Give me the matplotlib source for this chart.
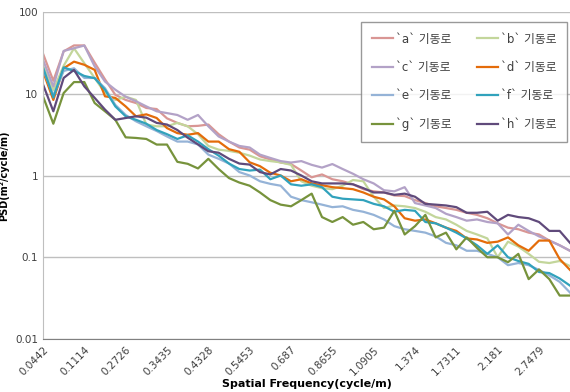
import matplotlib
matplotlib.use('Agg')
import matplotlib.pyplot as plt
import numpy as np

plt.rcParams['font.family'] = ['DejaVu Sans', 'Noto Sans CJK KR']

# category labels shown on the x axis (every 4th frequency)
freq_labels = ['0.0442', '0.1114', '0.2726', '0.3435', '0.4328', '0.5453', '0.687',
               '0.8655', '1.0905', '1.374', '1.7311', '2.181', '2.7479']

psd_a = [31, 14.4, 33, 39, 39, 24, 15, 9.7, 8.4, 7.7, 6.7, 6.5, 5.0, 4.4, 4.0, 4.05,
         4.2, 3.2, 2.6, 2.2, 2.07, 1.72, 1.57, 1.44, 1.38, 1.15, 0.95, 1.03, 0.9, 0.85,
         0.78, 0.68, 0.64, 0.62, 0.57, 0.56, 0.5, 0.46, 0.42, 0.4, 0.38, 0.35, 0.33,
         0.3, 0.26, 0.23, 0.22, 0.2, 0.19, 0.16, 0.14, 0.12]
psd_b = [22, 11, 22, 36, 23.6, 15.6, 10.2, 8.4, 9.2, 8.4, 4.2, 4.0, 4.0, 4.4, 4.0, 3.2,
         2.3, 2.07, 2.0, 1.9, 1.75, 1.57, 1.5, 1.45, 1.35, 0.85, 0.75, 0.7, 0.68, 0.75,
         0.88, 0.85, 0.55, 0.4, 0.43, 0.42, 0.4, 0.36, 0.31, 0.29, 0.25, 0.21, 0.19,
         0.17, 0.1, 0.155, 0.135, 0.11, 0.088, 0.085, 0.09, 0.078]
psd_c = [26, 12.3, 33.4, 36, 38.9, 21.6, 14.1, 11.2, 9.2, 8.1, 7.0, 6.1, 5.8, 5.5, 4.8, 5.5,
         4.0, 3.0, 2.6, 2.3, 2.2, 1.8, 1.64, 1.5, 1.44, 1.5, 1.35, 1.25, 1.38, 1.2,
         1.05, 0.9, 0.8, 0.66, 0.64, 0.72, 0.46, 0.43, 0.4, 0.34, 0.31, 0.28, 0.29,
         0.27, 0.26, 0.19, 0.25, 0.21, 0.18, 0.16, 0.14, 0.12]
psd_d = [18.8, 8.4, 20.5, 24.7, 22.6, 19.6, 9.3, 8.9, 7.0, 5.3, 5.6, 5.05, 3.8, 3.3, 3.15, 3.3,
         2.6, 2.6, 2.1, 1.95, 1.45, 1.3, 1.08, 1.0, 0.85, 0.9, 0.8, 0.76, 0.72, 0.7,
         0.68, 0.62, 0.55, 0.51, 0.42, 0.3, 0.28, 0.29, 0.26, 0.23, 0.21, 0.17, 0.165,
         0.15, 0.155, 0.175, 0.14, 0.12, 0.16, 0.16, 0.095, 0.07]
psd_e = [20, 9.5, 19, 20.5, 15.6, 15.6, 11.7, 7.3, 5.5, 4.6, 4.0, 3.5, 3.0, 2.6, 2.6, 2.4,
         1.8, 1.6, 1.4, 1.1, 1.0, 0.85, 0.79, 0.75, 0.55, 0.5, 0.47, 0.44, 0.41, 0.42,
         0.38, 0.36, 0.33, 0.29, 0.24, 0.22, 0.21, 0.2, 0.18, 0.15, 0.14, 0.12, 0.12,
         0.11, 0.1, 0.08, 0.085, 0.08, 0.07, 0.06, 0.05, 0.037]
psd_f = [21, 9, 21, 19, 16.5, 15.5, 11.2, 7.0, 5.3, 4.8, 4.3, 3.6, 3.2, 2.8, 3.1, 2.6,
         2.1, 1.75, 1.4, 1.2, 1.15, 1.18, 0.9, 1.0, 0.78, 0.75, 0.78, 0.72, 0.55, 0.52,
         0.51, 0.5, 0.45, 0.42, 0.36, 0.38, 0.37, 0.27, 0.26, 0.23, 0.2, 0.17, 0.14,
         0.11, 0.14, 0.1, 0.09, 0.083, 0.066, 0.064, 0.055, 0.045]
psd_g = [9.3, 4.3, 10.2, 13.9, 13.9, 7.7, 6.1, 4.8, 2.93, 2.88, 2.8, 2.39, 2.39, 1.47, 1.39, 1.22,
         1.6, 1.2, 0.93, 0.82, 0.75, 0.62, 0.5, 0.44, 0.42, 0.5, 0.6, 0.31, 0.27, 0.31,
         0.25, 0.27, 0.22, 0.23, 0.37, 0.19, 0.24, 0.33, 0.175, 0.2, 0.125, 0.175, 0.13,
         0.1, 0.1, 0.087, 0.11, 0.054, 0.071, 0.054, 0.034, 0.034]
psd_h = [13, 6.1, 15.6, 19.6, 12.3, 8.9, 6.4, 4.8, 5.05, 5.3, 5.1, 4.4, 4.2, 3.6, 2.9, 2.4,
         1.98, 1.9, 1.6, 1.4, 1.36, 1.1, 1.03, 1.2, 1.15, 1.0, 0.85, 0.8, 0.8, 0.8,
         0.78, 0.7, 0.62, 0.62, 0.58, 0.6, 0.55, 0.45, 0.44, 0.43, 0.41, 0.35, 0.35,
         0.36, 0.28, 0.33, 0.31, 0.3, 0.27, 0.21, 0.21, 0.15]

series = [
    ("`a` 기동로", psd_a, '#D99694'),
    ("`b` 기동로", psd_b, '#C3D69B'),
    ("`c` 기동로", psd_c, '#B3A2C7'),
    ("`d` 기동로", psd_d, '#E46C0A'),
    ("`e` 기동로", psd_e, '#95B3D7'),
    ("`f` 기동로", psd_f, '#31A2BC'),
    ("`g` 기동로", psd_g, '#77933C'),
    ("`h` 기동로", psd_h, '#604A7B'),
]

fig = plt.figure(figsize=(5.7, 3.92), dpi=100)
ax = fig.add_axes([43/570, 1 - 339/392, 1 - 43/570, (339 - 12)/392])

idx = np.arange(len(psd_a))
lines = {}
for name, vals, col in series:
    ln, = ax.plot(idx, vals, color=col, lw=1.6, label=name)
    lines[name] = ln

ax.set_yscale('log')
ax.set_ylim(0.01, 100)
ax.set_xlim(0, len(psd_a) - 1)

ax.set_yticks([0.01, 0.1, 1, 10, 100])
ax.set_yticklabels(['0.01', '0.1', '1', '10', '100'])
ax.minorticks_off()
ax.yaxis.grid(True, color='#BFBFBF', lw=1)
ax.set_axisbelow(True)

ax.set_xticks(idx[::4][:len(freq_labels)])
ax.set_xticklabels(freq_labels, rotation=45, ha='right', rotation_mode='anchor')
ax.tick_params(axis='both', length=0, labelsize=7.5, colors='#404040')
ax.tick_params(axis='x', pad=4)

for s in ['top', 'right']:
    ax.spines[s].set_visible(False)
ax.spines['left'].set_color('#BFBFBF')
ax.spines['bottom'].set_color('#808080')

ax.set_xlabel('Spatial Frequency(cycle/m)', fontsize=8, fontweight='bold', labelpad=1)
ax.set_ylabel('PSD(m²/cycle/m)', fontsize=7, fontweight='bold', labelpad=4)

# legend filled row by row: a b / c d / e f / g h
order = [0, 2, 4, 6, 1, 3, 5, 7]
handles = [lines[series[i][0]] for i in order]
labels = [series[i][0] for i in order]
leg = ax.legend(handles, labels, ncol=2, loc='upper right',
                bbox_to_anchor=(567/570, 1 - 22/392), bbox_transform=fig.transFigure,
                borderaxespad=0, fontsize=8.5, frameon=True, fancybox=False,
                edgecolor='#808080', handlelength=1.8, handletextpad=0.2,
                columnspacing=2.2, labelspacing=1.3, borderpad=0.9)
leg.get_frame().set_linewidth(1)
for t in leg.get_texts():
    t.set_color('#404040')

fig.savefig('out.png', dpi=100)
